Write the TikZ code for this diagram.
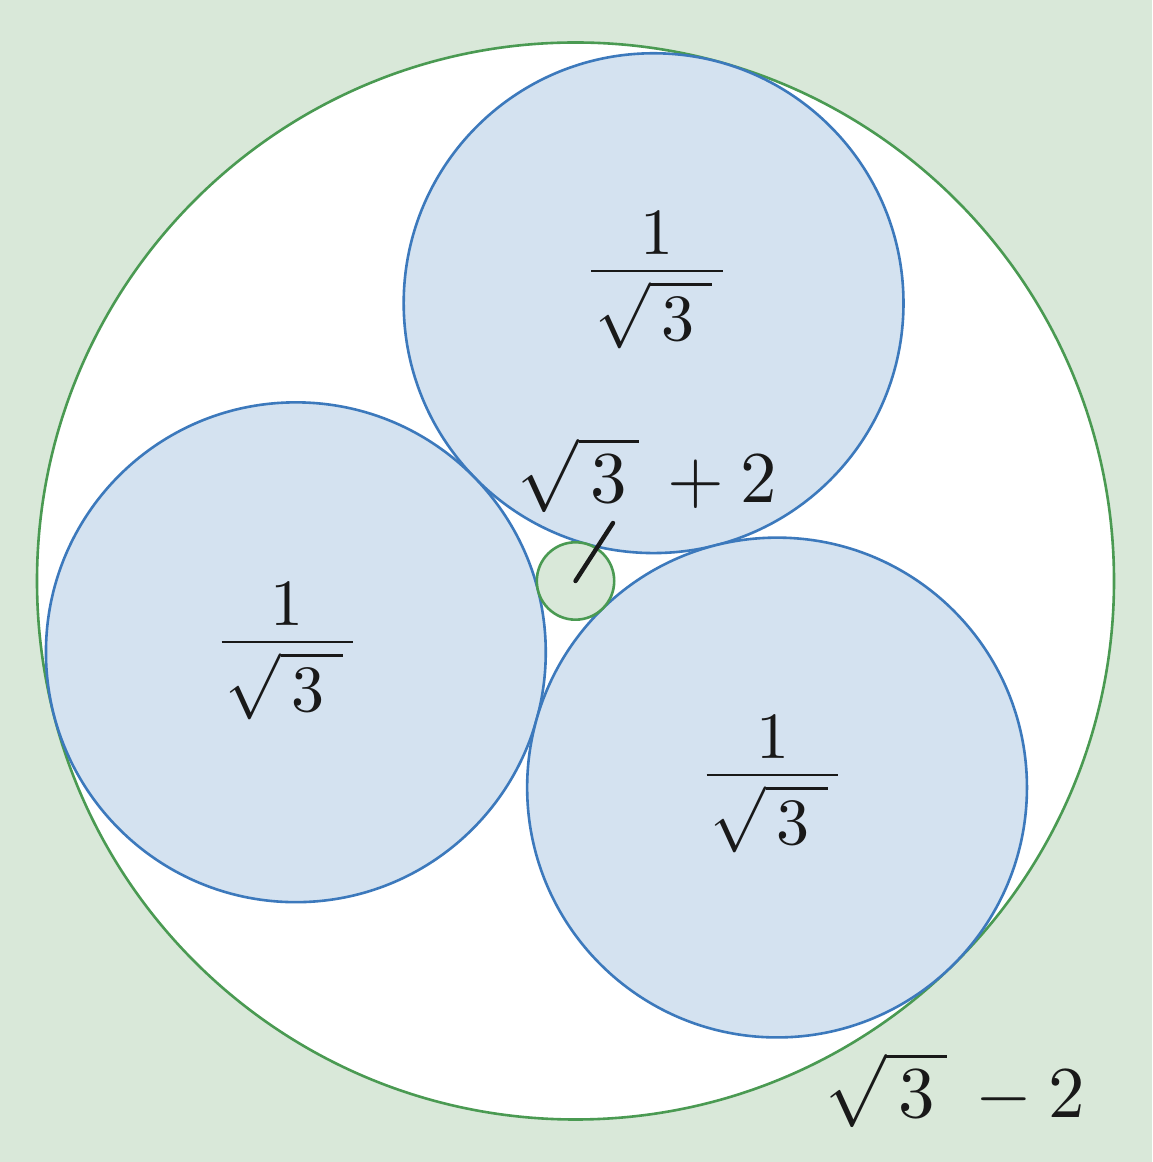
\documentclass[tikz,border=0pt]{standalone}
\usepackage{amsmath}
\usetikzlibrary{calc}
\newcommand{\invroot}{$\dfrac{\raisebox{-1.8pt}{$1$}}{\kern0.6pt\sqrt{\,3\;}\kern1.6pt}$}
\begin{document}
\begin{tikzpicture}[x=0.5pt,y=0.5pt,
  bigc/.style={draw=greenline,line width=1.3pt,fill=white},
  medc/.style={draw=blueline,line width=1.3pt,fill=bluefill},
  smallc/.style={draw=greenline,line width=1.3pt,fill=bgfill},
  lbl/.style={inner sep=0pt,anchor=base,scale=3.65,transform shape,text=black!90},
  fraclbl/.style={inner sep=0pt,anchor=base,scale=3.3,transform shape,text=black!90},
  pointer/.style={line width=2.2pt,line cap=round,draw=black!90}]
\definecolor{bgfill}{HTML}{D9E8D9}
\definecolor{bluefill}{HTML}{D4E2F0}
\definecolor{blueline}{HTML}{3C79BC}
\definecolor{greenline}{HTML}{4A9A52}
\useasboundingbox (0,0) rectangle (1152,1162);
\fill[bgfill] (0,0) rectangle (1152,1162);
\coordinate (O) at (575.5,581);
\draw[bigc] (O) circle (538.5);
\coordinate (A) at ($(O)+(74.3:288.6)$);
\coordinate (B) at ($(O)+(194.3:288.6)$);
\coordinate (C) at ($(O)+(314.3:288.6)$);
\draw[medc] (A) circle (249.9);
\draw[medc] (B) circle (249.9);
\draw[medc] (C) circle (249.9);
\draw[smallc] (O) circle (38.7);
\node[fraclbl] (fa) at (657,874.5) {\invroot};
\node[fraclbl] (fb) at (287.5,503.5) {\invroot};
\node[fraclbl] (fc) at (772.5,370.5) {\invroot};
\node[lbl] (inner) at (647.5,659) {$\sqrt{\,3\,}\,+2$};
\node[lbl] (outer) at (955,44) {$\sqrt{\,3\,}\,-2$};
\coordinate (tip) at (613,639);
\draw[pointer] (O) -- (tip);
\end{tikzpicture}
\end{document}
